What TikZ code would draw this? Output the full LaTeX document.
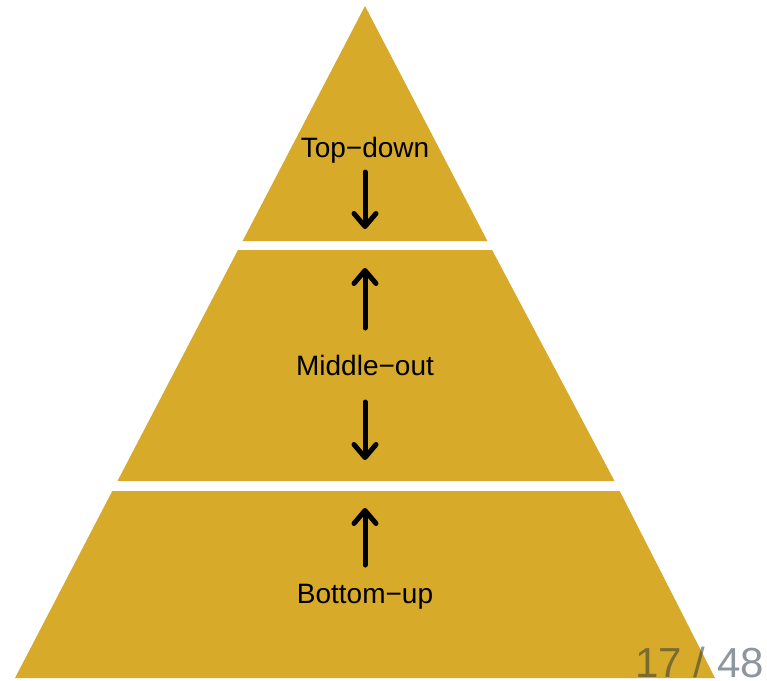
\documentclass[tikz,border=0pt]{standalone}
\usepackage{fontspec}
\setmainfont{Liberation Sans}
\usetikzlibrary{arrows.meta}
\definecolor{gold}{RGB}{215,170,41}
\definecolor{pagegray}{RGB}{30,45,60}
\tikzset{
  band/.style={fill=gold, draw=none},
  lbl/.style={font=\fontsize{28}{30}\selectfont, anchor=base, inner sep=0pt},
  flow/.style={line width=5pt, line cap=round, -{Straight Barb[length=13pt,width=22pt,line width=5pt,line cap=round,round]}},
  pagenum/.style={font=\fontsize{42}{44}\selectfont, anchor=base east, inner sep=0pt, text=pagegray, text opacity=0.5}
}
\begin{document}
\begin{tikzpicture}[x=1pt,y=-1pt]
\useasboundingbox (0,0) rectangle (767,680);
% bands
\fill[band] (365,6) -- (487.4,241) -- (242.6,241) -- cycle;
\fill[band] (237.9,250) -- (492.1,250) -- (614.5,481) -- (117.5,481) -- cycle;
\fill[band] (112.3,491) -- (619.7,491) -- (715,678) -- (15,678) -- cycle;
% labels
\node[lbl] (top) at (365,157) {Top−down};
\node[lbl] (mid) at (365,375) {Middle−out};
\node[lbl] (bot) at (365,603) {Bottom−up};
% arrow ends
\coordinate (t1) at (365,172);
\coordinate (t2) at (365,229);
\coordinate (m1) at (365,328);
\coordinate (m2) at (365,268);
\coordinate (m3) at (365,402);
\coordinate (m4) at (365,460);
\coordinate (b1) at (365,565);
\coordinate (b2) at (365,508);
\draw[flow] (t1) -- (t2);
\draw[flow] (m1) -- (m2);
\draw[flow] (m3) -- (m4);
\draw[flow] (b1) -- (b2);
% page number
\node[pagenum] (page) at (764,677) {17 / 48};
\end{tikzpicture}
\end{document}
